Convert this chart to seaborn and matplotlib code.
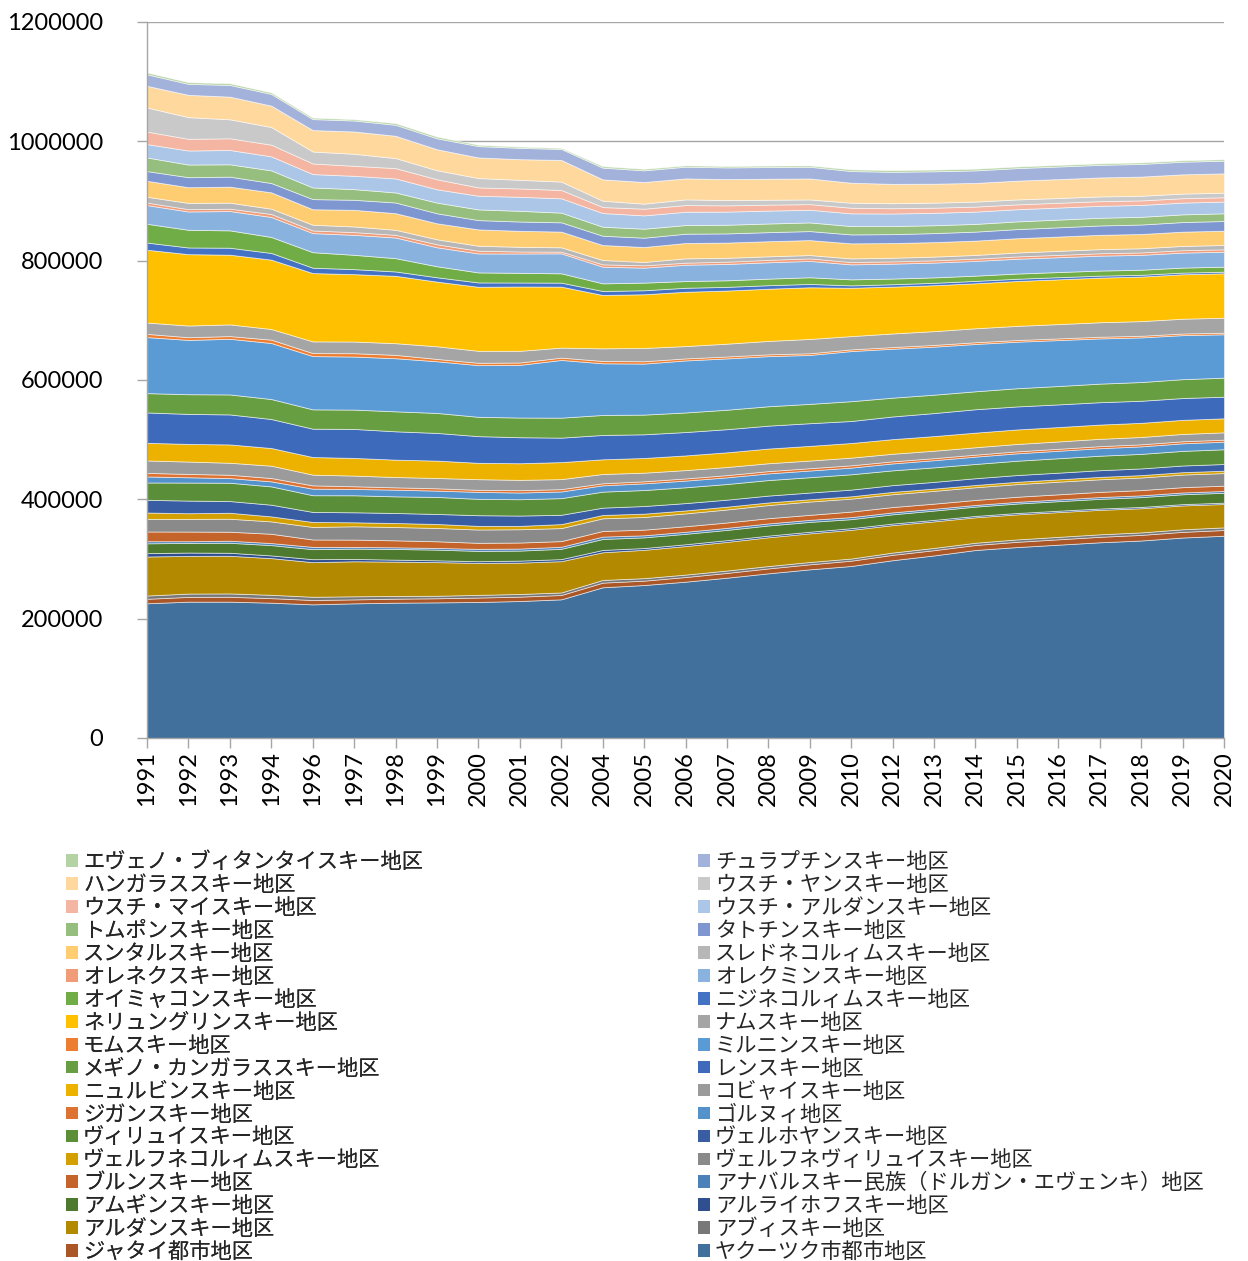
import numpy as np
import pandas as pd
import matplotlib
matplotlib.use("Agg")
import matplotlib.pyplot as plt
import seaborn as sns
from matplotlib.patches import Patch
from matplotlib.ticker import FuncFormatter, MultipleLocator
from matplotlib.font_manager import FontProperties

# ---------------- data (thousands of people) ----------------
years = ["1991", "1992", "1993", "1994", "1996", "1997", "1998", "1999", "2000",
         "2001", "2002", "2004", "2005", "2006", "2007", "2008", "2009", "2010",
         "2012", "2013", "2014", "2015", "2016", "2017", "2018", "2019", "2020"]
UNIT = 1000

names = [
    "ヤクーツク市都市地区", "ジャタイ都市地区", "アブィスキー地区", "アルダンスキー地区",
    "アルライホフスキー地区", "アムギンスキー地区", "アナバルスキー民族（ドルガン・エヴェンキ）地区",
    "ブルンスキー地区", "ヴェルフネヴィリュイスキー地区", "ヴェルフネコルィムスキー地区",
    "ヴェルホヤンスキー地区", "ヴィリュイスキー地区", "ゴルヌィ地区", "ジガンスキー地区",
    "コビャイスキー地区", "ニュルビンスキー地区", "レンスキー地区", "メギノ・カンガラススキー地区",
    "ミルニンスキー地区", "モムスキー地区", "ナムスキー地区", "ネリュングリンスキー地区",
    "ニジネコルィムスキー地区", "オイミャコンスキー地区", "オレクミンスキー地区", "オレネクスキー地区",
    "スレドネコルィムスキー地区", "スンタルスキー地区", "タトチンスキー地区", "トムポンスキー地区",
    "ウスチ・アルダンスキー地区", "ウスチ・マイスキー地区", "ウスチ・ヤンスキー地区",
    "ハンガラススキー地区", "チュラプチンスキー地区", "エヴェノ・ブィタンタイスキー地区",
]

yakutsk = [225.8, 228.5, 228.5, 226.8, 224.0, 225.7, 226.8, 227.3, 228.0, 229.6, 232.4, 252.6, 256.4, 262.0, 268.7, 276.0, 282.7, 288.3, 298.0, 306.0, 315.1, 320.0, 324.0, 328.0, 331.0, 336.0, 339.0]
zhatay = [7.5, 8.0, 8.2, 7.6, 7.3, 6.6, 6.7, 6.9, 7.4, 7.3, 7.3, 7.8, 7.3, 7.8, 8.0, 8.2, 8.4, 8.9, 9.0, 8.8, 8.4, 8.8, 9.0, 9.2, 9.4, 9.5, 9.6]
abyi = [5.5, 5.6, 5.6, 5.6, 5.4, 5.2, 4.6, 4.2, 4.5, 4.5, 4.2, 4.5, 4.2, 4.1, 4.0, 4.0, 3.9, 3.6, 3.8, 3.8, 3.8, 4.0, 4.1, 4.2, 4.2, 4.3, 4.4]
aldan = [65.4, 63.1, 63.1, 61.5, 58.0, 58.7, 57.5, 56.4, 53.6, 52.5, 52.5, 46.4, 47.5, 47.8, 48.0, 48.2, 48.0, 48.1, 46.0, 44.5, 42.6, 42.0, 41.5, 41.0, 40.5, 40.0, 39.2]
allaikh = [5.6, 5.6, 5.0, 4.5, 5.0, 3.9, 3.3, 3.0, 2.8, 3.4, 3.4, 3.9, 3.0, 3.0, 2.9, 2.8, 2.7, 2.8, 2.6, 2.5, 2.3, 2.3, 2.3, 2.2, 2.2, 2.2, 2.2]
amga = [16.5, 16.2, 16.8, 17.3, 16.8, 17.3, 17.9, 17.9, 17.3, 16.8, 17.3, 18.4, 17.9, 17.5, 17.2, 17.0, 16.5, 15.1, 15.5, 15.6, 15.6, 15.8, 16.0, 16.2, 16.4, 16.5, 16.6]
anabar = [3.5, 2.8, 3.4, 3.4, 3.8, 2.8, 2.8, 2.8, 3.4, 3.4, 3.4, 3.9, 3.4, 3.4, 3.4, 3.4, 3.4, 3.4, 3.2, 3.0, 2.8, 2.9, 2.9, 3.0, 3.0, 3.0, 3.0]
bulun = [16.3, 16.2, 15.1, 15.6, 12.4, 12.3, 11.7, 11.2, 10.1, 10.1, 9.5, 9.5, 9.5, 9.3, 9.0, 8.8, 8.4, 9.3, 9.0, 8.6, 8.4, 8.5, 8.6, 8.7, 8.8, 8.9, 8.9]
v_vilyui = [21.2, 21.2, 21.8, 20.7, 21.0, 22.3, 22.3, 22.3, 22.3, 22.3, 21.8, 21.2, 21.2, 21.5, 21.8, 22.0, 22.3, 21.7, 21.5, 21.4, 21.3, 21.2, 21.2, 21.1, 21.1, 21.1, 21.1]
v_kolym = [10.6, 9.5, 10.0, 8.4, 8.4, 6.7, 6.7, 6.7, 6.1, 5.6, 6.7, 5.6, 5.6, 5.0, 4.7, 4.4, 3.9, 3.9, 3.9, 3.8, 3.8, 3.9, 3.9, 4.0, 4.0, 4.0, 4.0]
verkhoyan = [21.3, 21.2, 19.6, 19.6, 16.8, 16.8, 16.8, 16.8, 17.9, 17.3, 15.6, 12.3, 12.8, 12.3, 11.8, 11.5, 11.2, 11.2, 11.3, 11.3, 11.3, 11.3, 11.2, 11.2, 11.2, 11.2, 11.2]
vilyui = [29.0, 30.2, 30.7, 30.7, 28.0, 28.5, 27.9, 28.5, 27.4, 27.4, 27.9, 26.8, 26.8, 26.5, 26.2, 26.0, 25.7, 25.7, 24.8, 24.3, 23.9, 24.0, 24.2, 24.3, 24.4, 24.5, 24.7]
gorny = [10.1, 8.9, 7.8, 8.4, 11.0, 10.6, 11.2, 10.6, 11.7, 11.2, 11.2, 10.6, 11.2, 11.2, 11.2, 11.2, 11.2, 11.2, 11.6, 12.0, 12.3, 12.4, 12.5, 12.6, 12.6, 12.7, 12.7]
zhigan = [6.0, 5.6, 5.6, 5.6, 5.5, 4.5, 3.9, 3.9, 3.4, 3.9, 3.9, 3.4, 3.4, 3.6, 3.7, 3.8, 3.9, 3.8, 3.5, 3.4, 3.3, 3.3, 3.3, 3.4, 3.4, 3.4, 3.4]
kobyai = [20.8, 20.7, 20.1, 20.7, 18.0, 17.9, 17.3, 17.3, 17.9, 17.3, 16.8, 15.6, 14.5, 14.0, 13.6, 13.2, 12.8, 12.9, 12.7, 12.5, 12.4, 12.4, 12.3, 12.3, 12.3, 12.3, 12.3]
nyurba = [29.6, 29.6, 30.7, 29.6, 29.5, 29.6, 29.1, 29.1, 27.4, 27.9, 28.5, 24.6, 24.6, 24.6, 24.6, 24.6, 24.6, 24.5, 24.5, 24.5, 24.5, 24.3, 24.1, 23.9, 23.7, 23.6, 23.5]
lensk = [50.9, 50.3, 50.3, 48.6, 47.5, 48.6, 47.5, 46.4, 44.7, 43.6, 41.0, 40.8, 39.7, 39.2, 38.8, 38.4, 38.0, 36.9, 38.0, 38.6, 39.2, 38.6, 38.0, 37.5, 37.0, 36.6, 36.2]
megino = [32.4, 33.0, 33.5, 33.5, 32.4, 32.4, 33.5, 33.5, 32.4, 33.0, 33.5, 33.5, 33.0, 32.8, 32.6, 32.5, 32.4, 33.2, 31.5, 30.8, 30.1, 30.5, 30.8, 31.1, 31.4, 31.6, 31.9]
mirny = [93.9, 91.0, 93.3, 93.9, 89.3, 88.9, 89.0, 86.6, 86.6, 88.3, 96.7, 86.6, 85.5, 87.2, 86.0, 84.0, 82.0, 84.0, 82.0, 80.5, 79.3, 78.0, 77.0, 75.8, 74.8, 73.8, 72.7]
mom = [5.4, 4.5, 4.5, 5.6, 5.0, 5.6, 5.6, 3.9, 3.9, 3.9, 3.9, 3.9, 3.9, 3.4, 3.2, 3.0, 2.8, 2.8, 2.8, 2.9, 2.9, 2.8, 2.8, 2.8, 2.7, 2.7, 2.7]
nam = [19.0, 19.6, 19.6, 17.9, 19.6, 19.6, 19.6, 21.2, 20.1, 19.6, 16.8, 21.2, 22.3, 20.7, 21.5, 22.5, 24.0, 22.3, 22.8, 23.1, 23.4, 23.7, 24.0, 24.3, 24.6, 24.8, 25.1]
neryungri = [122.0, 119.6, 116.8, 116.2, 114.5, 112.9, 112.9, 108.4, 107.3, 107.8, 102.2, 89.4, 90.0, 91.0, 89.0, 87.5, 86.6, 81.0, 78.5, 77.0, 75.4, 75.2, 75.0, 74.8, 74.6, 74.5, 74.4]
n_kolym = [12.0, 11.2, 11.7, 11.2, 9.0, 8.4, 7.3, 7.3, 7.3, 6.7, 6.7, 6.7, 6.7, 6.7, 6.2, 5.9, 5.6, 4.0, 4.0, 4.0, 4.0, 3.8, 3.6, 3.3, 3.0, 2.8, 2.7]
oimyakon = [31.5, 29.6, 29.1, 26.8, 26.0, 24.0, 22.3, 18.4, 16.8, 16.2, 15.6, 12.8, 12.8, 11.2, 11.0, 11.0, 11.2, 10.1, 9.5, 9.1, 8.8, 8.7, 8.6, 8.5, 8.5, 8.4, 8.4]
olekma = [31.3, 30.7, 32.4, 33.5, 32.0, 33.5, 34.6, 31.8, 31.8, 32.4, 33.5, 27.9, 25.1, 27.4, 27.4, 27.4, 27.4, 25.1, 25.0, 24.8, 24.7, 24.8, 24.9, 25.0, 25.0, 25.1, 25.1]
olenek = [4.2, 3.9, 3.9, 5.0, 4.4, 4.5, 4.5, 5.0, 4.5, 3.4, 2.8, 3.9, 3.9, 3.4, 3.8, 4.0, 4.2, 3.9, 3.8, 3.8, 3.8, 3.9, 3.9, 4.0, 4.0, 4.0, 4.0]
sredne = [9.7, 10.5, 10.1, 8.9, 9.6, 9.5, 8.4, 8.4, 8.4, 7.8, 7.3, 7.3, 5.6, 7.3, 6.5, 6.0, 5.6, 6.1, 6.1, 6.2, 6.2, 6.5, 6.7, 6.9, 7.0, 7.2, 7.3]
suntar = [26.8, 26.3, 26.8, 27.4, 26.0, 27.9, 27.9, 26.8, 27.4, 26.8, 26.3, 25.1, 25.1, 25.7, 25.5, 25.3, 25.1, 25.2, 24.6, 24.3, 24.0, 24.0, 24.0, 24.0, 23.9, 23.9, 23.9]
tatta = [16.3, 16.8, 16.8, 15.6, 17.0, 16.8, 17.9, 16.8, 15.6, 15.6, 15.6, 15.6, 15.6, 15.6, 15.4, 15.2, 15.1, 15.0, 15.0, 15.1, 15.1, 15.3, 15.5, 15.7, 15.9, 16.1, 16.3]
tompon = [22.8, 21.2, 20.7, 21.2, 19.5, 17.9, 16.8, 17.9, 17.9, 17.9, 16.2, 15.1, 15.1, 14.5, 14.5, 14.5, 14.5, 14.0, 13.5, 13.2, 12.9, 12.9, 12.9, 12.9, 12.9, 12.9, 12.9]
ust_aldan = [22.4, 23.5, 24.0, 23.5, 22.4, 22.3, 23.5, 22.3, 22.9, 23.5, 24.0, 22.9, 22.3, 22.3, 22.0, 21.6, 21.2, 21.3, 21.0, 20.8, 20.6, 20.4, 20.2, 20.0, 19.9, 19.7, 19.6]
ust_mai = [21.0, 19.6, 19.6, 19.6, 17.8, 16.8, 17.3, 16.8, 14.0, 14.0, 14.0, 10.1, 11.2, 11.2, 10.5, 10.0, 9.5, 9.4, 8.9, 8.6, 8.4, 8.2, 8.0, 7.8, 7.6, 7.4, 7.3]
ust_yan = [40.4, 36.3, 31.8, 29.6, 20.0, 20.1, 16.8, 15.1, 15.6, 14.5, 14.0, 10.6, 8.4, 9.5, 8.8, 8.2, 7.8, 8.4, 8.4, 8.4, 8.4, 8.2, 8.0, 7.9, 7.8, 7.7, 7.6]
khangalas = [36.3, 37.4, 38.0, 35.8, 36.0, 37.4, 37.4, 35.2, 34.6, 34.6, 36.3, 35.8, 36.3, 35.2, 35.2, 35.2, 35.2, 33.5, 32.4, 31.8, 31.3, 31.5, 31.7, 31.9, 32.1, 32.3, 32.4]
churapcha = [19.3, 18.4, 19.6, 19.6, 18.4, 18.4, 18.4, 18.4, 19.0, 19.0, 18.4, 19.6, 19.6, 19.6, 19.6, 19.6, 19.6, 19.6, 20.2, 20.8, 21.0, 21.0, 21.1, 21.1, 21.2, 21.2, 21.2]
eveno = [3.0, 2.8, 2.8, 2.5, 2.4, 2.2, 2.8, 2.8, 2.2, 2.0, 1.8, 2.5, 2.5, 2.2, 2.3, 2.4, 2.2, 2.8, 2.8, 2.8, 2.8, 2.7, 2.6, 2.5, 2.5, 2.4, 2.4]

series = [yakutsk, zhatay, abyi, aldan, allaikh, amga, anabar, bulun, v_vilyui, v_kolym,
          verkhoyan, vilyui, gorny, zhigan, kobyai, nyurba, lensk, megino, mirny, mom,
          nam, neryungri, n_kolym, oimyakon, olekma, olenek, sredne, suntar, tatta, tompon,
          ust_aldan, ust_mai, ust_yan, khangalas, churapcha, eveno]

colors = [
    "#41709C", "#AA5627", "#787878", "#B38900", "#2F4F8F", "#4E7A2F",
    "#4B81B8", "#C5642A", "#8A8A8A", "#D49F00", "#385DA3", "#5B8E39",
    "#5492CC", "#DE7232", "#9B9B9B", "#EDB100", "#3E6ABB", "#689E42",
    "#5B9BD5", "#ED7D31", "#A5A5A5", "#FFC000", "#4472C4", "#70AD47",
    "#8AB2DF", "#F19C79", "#B7B7B7", "#FFCD71", "#7F97D0", "#96BE7E",
    "#ABC6E6", "#F4B6A2", "#C9C9C9", "#FFD89E", "#A3B2DA", "#B4D3A4",
]

df = pd.DataFrame({n: np.array(v) * UNIT for n, v in zip(names, series)}, index=years)

# ---------------- drawing ----------------
sns.set_theme(style="white")
plt.rcParams["font.family"] = ["Lato", "DejaVu Sans"]

W, H = 1248, 1261
fig = plt.figure(figsize=(W / 100, H / 100), dpi=100)
ax = fig.add_axes([147 / W, 1 - 738 / H, (1224 - 147) / W, (738 - 22) / H])

x = np.arange(len(years))
ax.stackplot(x, df.T.values, colors=colors, edgecolor=(1, 1, 1, 0.6), linewidth=0.6)

ax.set_xlim(0, len(years) - 1)
ax.set_ylim(0, 1200000)
ax.yaxis.set_major_locator(MultipleLocator(200000))
ax.yaxis.set_major_formatter(FuncFormatter(lambda v, p: f"{int(round(v))}"))
ax.set_xticks(x)
ax.set_xticklabels(years, rotation=90)

ax.grid(axis="y", color="#A6A6A6", linewidth=1.0)
ax.grid(axis="x", visible=False)
ax.set_axisbelow(True)

for s in ["top", "right"]:
    ax.spines[s].set_visible(False)
for s in ["left", "bottom"]:
    ax.spines[s].set_color("#A6A6A6")
    ax.spines[s].set_linewidth(1.0)

ax.tick_params(axis="y", left=True, length=7, width=1, color="#A6A6A6",
               pad=24.5, labelsize=17, labelcolor="#000000")
ax.tick_params(axis="x", bottom=True, length=7, width=1, color="#A6A6A6",
               pad=2.5, labelsize=17, labelcolor="#000000")

# ---------------- legend (two columns, Excel order) ----------------
jp = FontProperties(family=["Noto Sans CJK JP", "DejaVu Sans"], size=15.3)
left_idx = list(range(35, 0, -2))
right_idx = list(range(34, -1, -2))

def make_legend(idx, xpix):
    handles = [Patch(facecolor=colors[i], edgecolor="none") for i in idx]
    labels = [names[i] for i in idx]
    return fig.legend(handles, labels, loc="upper left",
                      bbox_to_anchor=(xpix / W, 1 - 851 / H),
                      frameon=False, prop=jp, handlelength=0.55, handleheight=0.55,
                      handletextpad=0.25, labelspacing=0.045, borderpad=0,
                      borderaxespad=0)

leg1 = make_legend(left_idx, 66)
leg2 = make_legend(right_idx, 698)
fig.add_artist(leg1)

fig.savefig("out.png", dpi=100)
